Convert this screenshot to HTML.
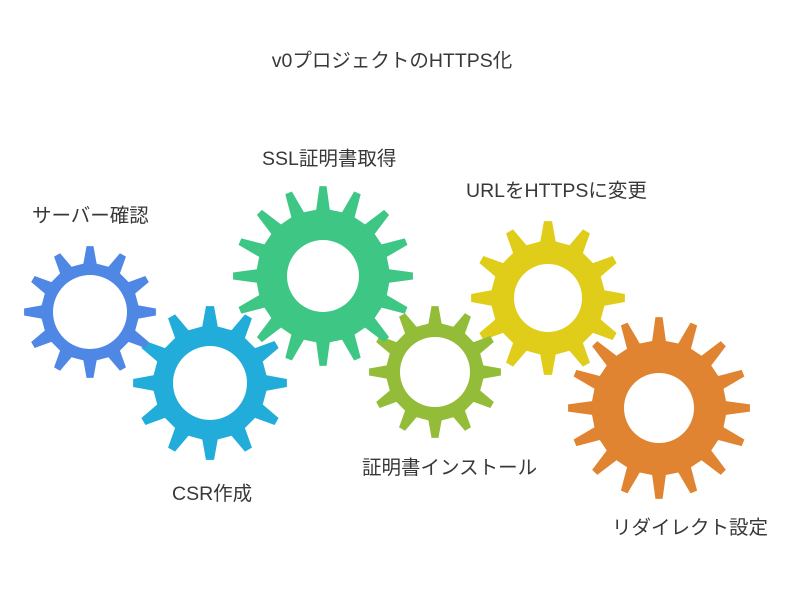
<!DOCTYPE html>
<html><head><meta charset="utf-8"><style>
html,body{margin:0;padding:0;background:#fff;}
svg text{font-family:"Liberation Sans","Noto Sans CJK JP",sans-serif;font-size:19.5px;fill:#383838;}
</style></head><body>
<svg id="s" width="806" height="588" viewBox="0 0 806 588" xmlns="http://www.w3.org/2000/svg">
<text x="392" y="67" text-anchor="middle">v0プロジェクトのHTTPS化</text>
<text x="32" y="222">サーバー確認</text>
<text x="172" y="500">CSR作成</text>
<text x="262" y="165">SSL証明書取得</text>
<text x="362" y="474">証明書インストール</text>
<text x="466" y="197">URLをHTTPSに変更</text>
<text x="612" y="534">リダイレクト設定</text>
</svg>
<script>
var gears=[[90,312,66,12,37,"#4f87e5"],[210,383,77,12,37,"#22acd9"],[323,276,90,16,36,"#3ec684"],[435,372,66,12,35,"#93bd38"],[548,298,77,12,34,"#dfcd19"],[659,408,91,16,35,"#e08431"]];
var s=document.getElementById('s'),ns="http://www.w3.org/2000/svg";
gears.forEach(function(g){
 var cx=g[0],cy=g[1],R=g[2],n=g[3],h=g[4],col=g[5],r=R*0.74,p=2*Math.PI/n,d="";
 for(var i=0;i<n;i++){
  var a=-Math.PI/2+i*p;
  var pts=[[r,a-p*0.26],[R,a-p*0.1],[R,a+p*0.1],[r,a+p*0.26]];
  pts.forEach(function(q,j){var x=cx+q[0]*Math.cos(q[1]),y=cy+q[0]*Math.sin(q[1]);d+=(i==0&&j==0?"M":"L")+x.toFixed(2)+" "+y.toFixed(2);});
 }
 d+="Z M"+(cx+h)+" "+cy+" A"+h+" "+h+" 0 1 0 "+(cx-h)+" "+cy+" A"+h+" "+h+" 0 1 0 "+(cx+h)+" "+cy+"Z";
 var e=document.createElementNS(ns,"path");e.setAttribute("d",d);e.setAttribute("fill",col);e.setAttribute("fill-rule","evenodd");
 s.insertBefore(e,s.firstChild);
});
</script>
</body></html>
